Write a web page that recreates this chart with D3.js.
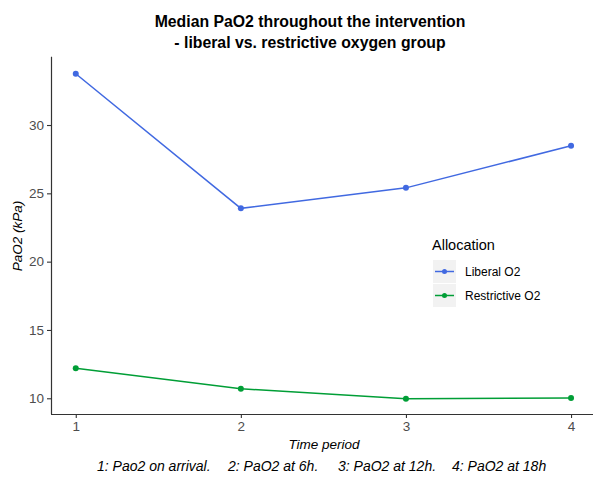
<!DOCTYPE html>
<html>
<head>
<meta charset="utf-8">
<script src="https://cdn.jsdelivr.net/npm/d3@7"></script>
<style>
  html, body { margin: 0; padding: 0; background: #fff; }
  svg { display: block; font-family: "Liberation Sans", Arial, sans-serif; }
</style>
</head>
<body>
<div id="chart"></div>
<script>
const timePoints = [1, 2, 3, 4];
const liberalO2 = [33.75, 23.9, 25.4, 28.48];
const restrictiveO2 = [12.2, 10.7, 9.97, 10.02];
const seriesNames = ["Liberal O2", "Restrictive O2"];
const seriesColors = ["#4169E1", "#009E36"];
const yTicks = [10, 15, 20, 25, 30];
const xTicks = [1, 2, 3, 4];
const titleLines = ["Median PaO2 throughout the intervention", "- liberal vs. restrictive oxygen group"];
const captionItems = ["1: Pao2 on arrival.", "2: PaO2 at 6h.", "3: PaO2 at 12h.", "4: PaO2 at 18h"];

const W = 593, H = 481;
const svg = d3.select("#chart").append("svg").attr("width", W).attr("height", H);

const x = d3.scaleLinear().domain([0.85, 4.15]).range([51, 595.8]);
const y = d3.scaleLinear().domain([8.85, 35.0]).range([414, 56.7]);

// Title
svg.append("g").selectAll("text").data(titleLines).join("text")
  .attr("x", 310).attr("y", (d, i) => 27 + i * 21)
  .attr("text-anchor", "middle")
  .attr("font-size", 15.8).attr("font-weight", "bold").attr("fill", "#000")
  .text(d => d);

// Axes
const axisColor = "#333";
const yAxis = svg.append("g").attr("transform", "translate(51,0)")
  .call(d3.axisLeft(y).tickValues(yTicks).tickSize(4).tickPadding(3).tickFormat(d3.format("d")));
const xAxis = svg.append("g").attr("transform", "translate(0,414)")
  .call(d3.axisBottom(x).tickValues(xTicks).tickSize(4).tickPadding(3).tickFormat(d3.format("d")));
[yAxis, xAxis].forEach(g => {
  g.select(".domain").attr("stroke", axisColor).attr("stroke-width", 1.2);
  g.selectAll(".tick line").attr("stroke", axisColor).attr("stroke-width", 1.1);
  g.selectAll(".tick text").attr("fill", "#4D4D4D").attr("font-size", 13.5)
    .attr("font-family", "Liberation Sans, Arial, sans-serif");
});
yAxis.select(".domain").attr("d", `M0.5,${y.range()[1]}V${414}`);
xAxis.select(".domain").attr("d", `M51,0.5H${W}`);

// Axis titles
svg.append("text").attr("x", 324).attr("y", 449)
  .attr("text-anchor", "middle").attr("font-size", 13.5).attr("font-style", "italic")
  .text("Time period");
svg.append("text").attr("transform", "translate(22,236) rotate(-90)")
  .attr("text-anchor", "middle").attr("font-size", 13.5).attr("font-style", "italic")
  .text("PaO2 (kPa)");

// Caption (items laid out left to right with wide gaps)
const capStarts = [97, 228, 338, 452];
svg.append("g").selectAll("text").data(captionItems).join("text")
  .attr("x", (d, i) => capStarts[i]).attr("y", 471)
  .attr("font-size", 14).attr("font-style", "italic").attr("fill", "#000")
  .text(d => d);

// Series
const series = [liberalO2, restrictiveO2].map((vals, i) => ({
  name: seriesNames[i], color: seriesColors[i],
  values: vals.map((v, j) => ({ t: timePoints[j], v }))
}));
const line = d3.line().x(d => x(d.t)).y(d => y(d.v));
const sg = svg.append("g").selectAll("g").data(series).join("g");
sg.append("path").attr("d", d => line(d.values)).attr("fill", "none")
  .attr("stroke", d => d.color).attr("stroke-width", 1.5);
sg.selectAll("circle").data(d => d.values.map(p => ({ ...p, color: d.color }))).join("circle")
  .attr("cx", d => x(d.t)).attr("cy", d => y(d.v)).attr("r", 3)
  .attr("fill", d => d.color);

// Legend
const lg = svg.append("g").attr("transform", "translate(433,0)");
lg.append("text").attr("x", -1).attr("y", 250).attr("font-size", 14.5).attr("fill", "#000").text("Allocation");
const items = lg.selectAll("g").data(series).join("g")
  .attr("transform", (d, i) => `translate(0,${260 + i * 24})`);
items.append("rect").attr("width", 23).attr("height", 23).attr("fill", "#F2F2F2");
items.append("line").attr("x1", 2).attr("x2", 21).attr("y1", 11.5).attr("y2", 11.5)
  .attr("stroke", d => d.color).attr("stroke-width", 1.5);
items.append("circle").attr("cx", 11.5).attr("cy", 11.5).attr("r", 2.5).attr("fill", d => d.color);
items.append("text").attr("x", 32).attr("y", 16).attr("font-size", 12).attr("fill", "#000").text(d => d.name);
</script>
</body>
</html>
